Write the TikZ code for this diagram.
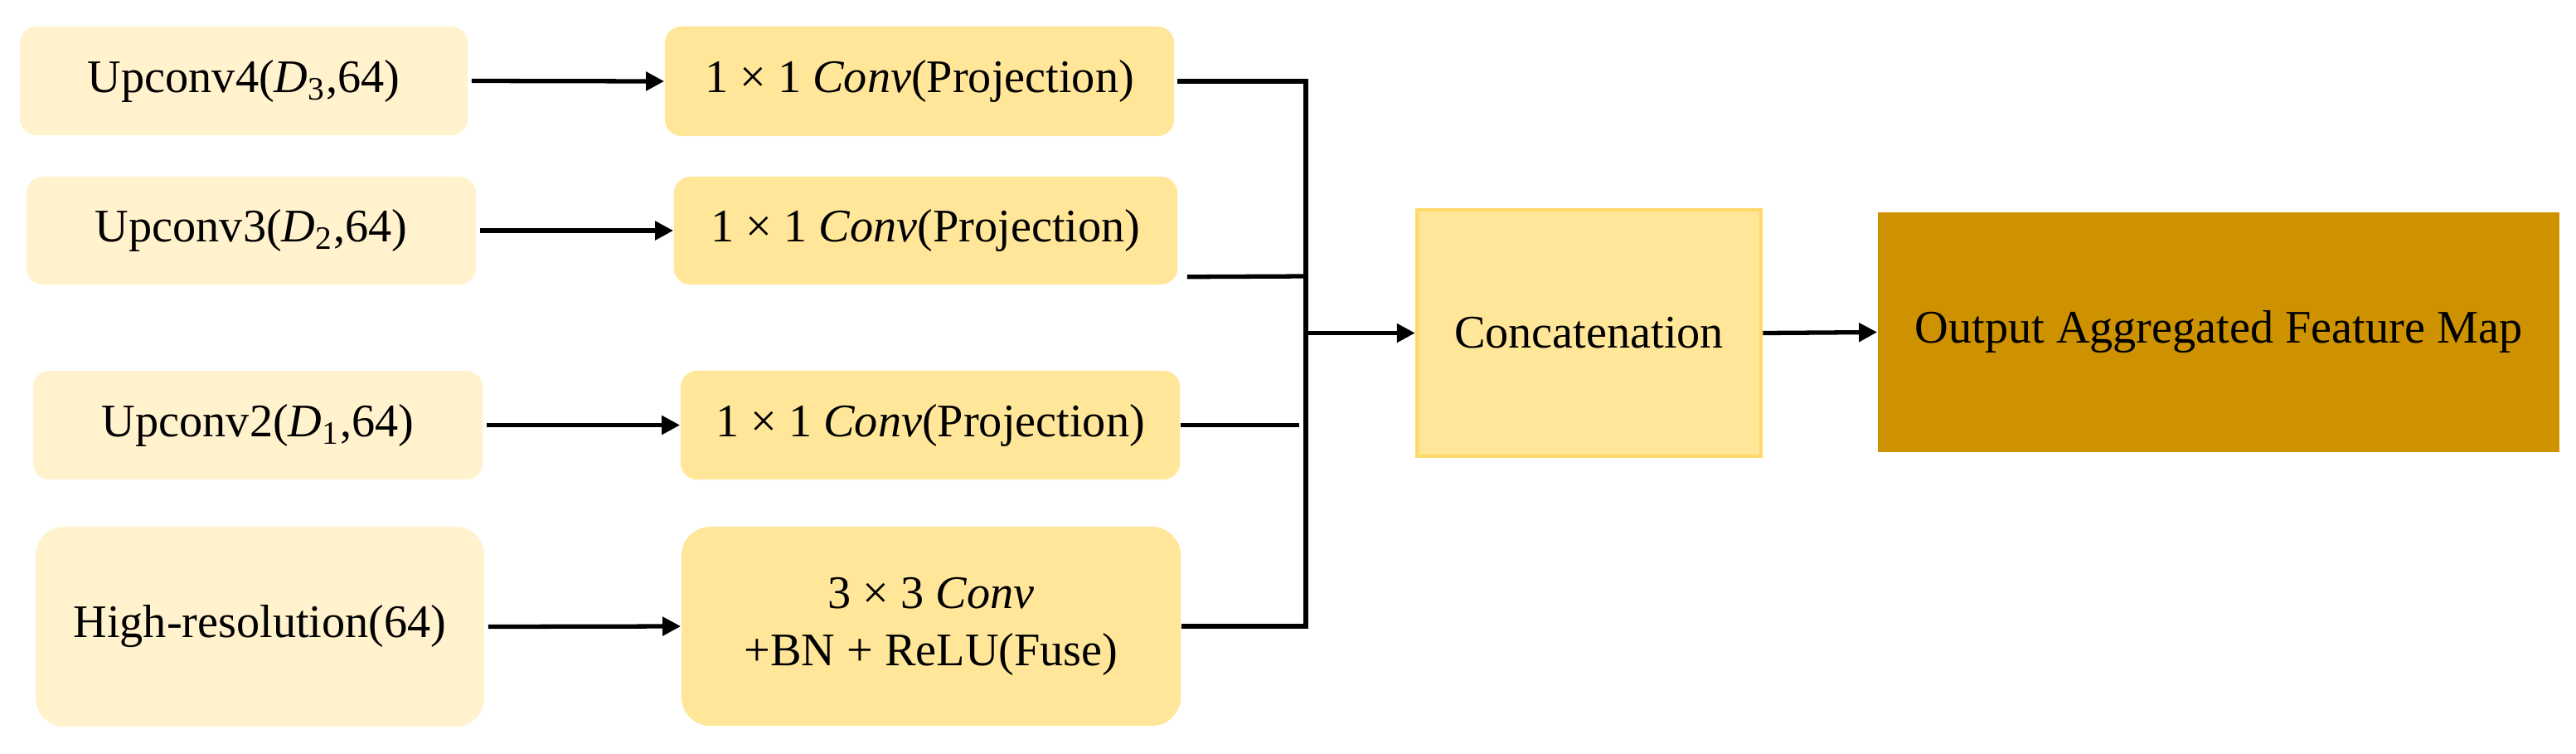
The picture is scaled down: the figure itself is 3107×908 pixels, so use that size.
\documentclass[tikz,border=0pt]{standalone}
\usepackage{fontspec}
\setmainfont{Liberation Serif}
\usetikzlibrary{arrows.meta}
\definecolor{cream}{HTML}{FFF2CC}
\definecolor{gold}{HTML}{FFE699}
\definecolor{goldline}{HTML}{FFD966}
\definecolor{dgold}{RGB}{206,146,0}
\tikzset{
  base/.style={inner sep=0pt, font=\fontsize{16}{19.6}\selectfont, align=center, anchor=center},
  inbox/.style={base, fill=cream, rounded corners=0.2cm},
  convbox/.style={base, fill=gold, rounded corners=0.2cm},
  bigr/.style={rounded corners=0.35cm},
  catbox/.style={base, fill=gold, draw=goldline, line width=1.2pt},
  outbox/.style={base, fill=dgold},
  wire/.style={line width=1.5pt, black},
  arr/.style={wire, -{Triangle[length=0.22cm,width=0.22cm]}},
}
\begin{document}
\begin{tikzpicture}[x=0.01cm, y=-0.01cm]
\useasboundingbox (0,0) rectangle (3107,908);
% inputs
\node[inbox, minimum width=5.40cm, minimum height=1.31cm] (u4) at (294,97.5) {Upconv4(\textit{D}\textsubscript{3},64)};
\node[inbox, minimum width=5.42cm, minimum height=1.30cm] (u3) at (303,278) {Upconv3(\textit{D}\textsubscript{2},64)};
\node[inbox, minimum width=5.42cm, minimum height=1.31cm] (u2) at (311,512.5) {Upconv2(\textit{D}\textsubscript{1},64)};
\node[inbox, bigr, minimum width=5.41cm, minimum height=2.41cm] (hr) at (313.5,755.5) {High-resolution(64)};
% convs
\node[convbox, minimum width=6.14cm, minimum height=1.32cm] (c1) at (1109,98) {1 × 1 \textit{Conv}(Projection)};
\node[convbox, minimum width=6.07cm, minimum height=1.30cm] (c2) at (1116.5,278) {1 × 1 \textit{Conv}(Projection)};
\node[convbox, minimum width=6.02cm, minimum height=1.31cm] (c3) at (1122,512.5) {1 × 1 \textit{Conv}(Projection)};
\node[convbox, bigr, minimum width=6.02cm, minimum height=2.40cm] (c4) at (1123,755) {3 × 3 \textit{Conv}\\+BN + ReLU(Fuse)};
% concat & output
\node[catbox, minimum width=4.15cm, minimum height=2.97cm] (cat) at (1916.5,401.5) {Concatenation};
\node[outbox, minimum width=8.22cm, minimum height=2.89cm] (out) at (2676,400.5) {Output Aggregated Feature Map};
% junction points
\coordinate (jt) at (1575,98);
\coordinate (j2) at (1575,333);
\coordinate (j3) at (1567,512.5);
\coordinate (jm) at (1575,401.5);
\coordinate (jb) at (1575,755);
% input arrows
\draw[arr] ([xshift=0.04cm]u4.east) -- (c1.west);
\draw[arr] ([xshift=0.04cm]u3.east) -- (c2.west);
\draw[arr] ([xshift=0.04cm]u2.east) -- (c3.west);
\draw[arr] ([xshift=0.04cm]hr.east) -- (c4.west);
% merge
\draw[wire] ([xshift=0.03cm]c1.east) -- (jt) -- (jb) -- (c4.east);
\draw[wire] ([shift={(11,-10)}]c2.south east) -- (j2);
\draw[wire] (c3.east) -- (j3);
\draw[arr] (jm) -- (cat.west);
\draw[arr] (cat.east) -- (out.west);
\end{tikzpicture}
\end{document}
